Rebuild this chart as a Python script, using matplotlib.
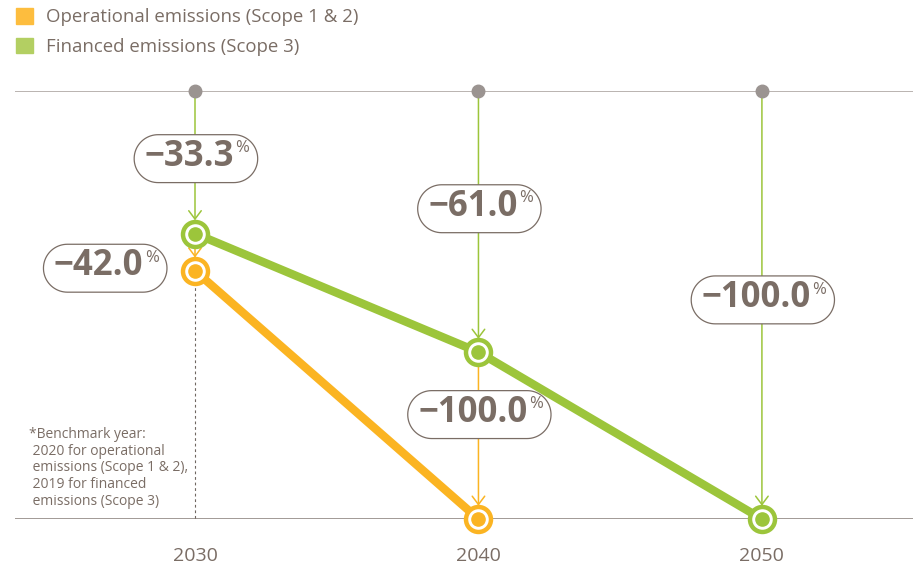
import numpy as np
import matplotlib
matplotlib.use("Agg")
import matplotlib.pyplot as plt
from matplotlib.patches import Patch
from matplotlib.path import Path

plt.rcParams['font.family'] = ['Open Sans', 'DejaVu Sans']

# data
years = [2030, 2040, 2050]
op_years = [2030, 2040]
op_values = [-42.0, -100.0]          # operational emissions (Scope 1 & 2)
fin_years = [2030, 2040, 2050]
fin_values = [-33.3, -61.0, -100.0]  # financed emissions (Scope 3)
op_label = 'Operational emissions (Scope 1 & 2)'
fin_label = 'Financed emissions (Scope 3)'
note = ("*Benchmark year:\n 2020 for operational\n emissions (Scope 1 & 2),\n"
        " 2019 for financed\n emissions (Scope 3)")

# label positions (x, y) for each value box
op_boxes = [(2026.6, -41.0), (2039.8, -75.2)]
fin_boxes = [(2029.8, -15.4), (2039.8, -27.1), (2049.8, -48.4)]

orange = '#fbb422'
green = '#9cc53b'
txt = '#7a6d65'


def pill(x0, y0, width, height, mutation_size):
    # stadium shaped box around the text, extra room on the right for the %
    padl = 0.3 * mutation_size
    padr = 0.68 * mutation_size
    r = 0.69 * mutation_size
    cy = y0 + height / 2 - 0.05 * mutation_size
    xl = x0 - padl + r
    xr = x0 + width + padr - r
    t = np.linspace(-np.pi / 2, np.pi / 2, 40)
    right = np.column_stack([xr + r * np.cos(t), cy + r * np.sin(t)])
    left = np.column_stack([xl - r * np.cos(t), cy - r * np.sin(t)])
    verts = np.vstack([right, left, right[:1]])
    codes = [Path.MOVETO] + [Path.LINETO] * (len(verts) - 2) + [Path.CLOSEPOLY]
    return Path(verts, codes)


fig = plt.figure(figsize=(9.13, 5.63), dpi=100)
ax = fig.add_axes([15 / 913, 44 / 563, 898 / 913, 428 / 563])
ax.set_xlim(2023.65, 2055.33)
ax.set_ylim(-100, 0)
for s in ax.spines.values():
    s.set_visible(False)
ax.set_yticks([])
ax.set_xticks(years, [str(y) for y in years])
ax.tick_params(axis='x', length=0, pad=20, labelsize=14, labelcolor=txt)

ax.axhline(0, color='#b4aeaa', lw=1.3, zorder=1)
ax.axhline(-100, color='#9a928d', lw=1.3, zorder=1)
ax.plot(years, [0] * len(years), 'o', color='#9b9491', ms=9, clip_on=False, zorder=3)


def arrow(x, y0, y1, color):
    ax.annotate('', xy=(x, y1), xytext=(x, y0),
                arrowprops=dict(arrowstyle='->,head_length=0.6,head_width=0.45',
                                color=color, lw=1.1, shrinkA=0, shrinkB=9.5),
                zorder=2, annotation_clip=False)


# thin drop lines with arrow heads
for x, v in zip(fin_years, fin_values):
    arrow(x, 0, v, green)
arrow(2030, fin_values[0], op_values[0], orange)
arrow(2040, fin_values[1], op_values[1], orange)
ax.plot([2030, 2030], [op_values[0], -100], color='#6f6761', lw=0.8,
        ls=(0, (2.5, 2.5)), zorder=1)

# series lines
ax.plot(op_years, op_values, color=orange, lw=6, solid_capstyle='butt', zorder=4)
ax.plot(fin_years, fin_values, color=green, lw=6, solid_capstyle='butt', zorder=4)

for xs, vs, c in [(op_years, op_values, orange), (fin_years, fin_values, green)]:
    ax.plot(xs, vs, 'o', ms=18, mfc='white', mec=c, mew=3.2, clip_on=False, zorder=5)
    ax.plot(xs, vs, 'o', ms=9.5, color=c, clip_on=False, zorder=6)

# value boxes
for (bx, by), v in list(zip(fin_boxes, fin_values)) + list(zip(op_boxes, op_values)):
    s = '{:.1f}'.format(v).replace('-', '\u2212')
    t = ax.text(bx, by, s, fontsize=25, fontweight='bold', color=txt,
                ha='center', va='center', zorder=7,
                bbox=dict(boxstyle=pill, fc='white', ec='#7a6d65', lw=0.9))
    ax.annotate('%', xy=(1, 1), xycoords=t, xytext=(1, -1),
                textcoords='offset points', ha='left', va='top',
                fontsize=12, color=txt, zorder=8)

ax.text(2024.15, -78.5, note, fontsize=10, color=txt, va='top', ha='left',
        linespacing=1.15, zorder=2)

handles = [Patch(color='#fdbd3e'), Patch(color='#b3cf62')]
fig.legend(handles, [op_label, fin_label], loc='upper left',
           bbox_to_anchor=(16 / 913, 1 - 8 / 563), frameon=False, fontsize=13.4,
           labelcolor=txt, handlelength=0.92, handleheight=0.92,
           handletextpad=0.7, labelspacing=0.62, borderaxespad=0, borderpad=0)

fig.savefig('out.png', dpi=100)
